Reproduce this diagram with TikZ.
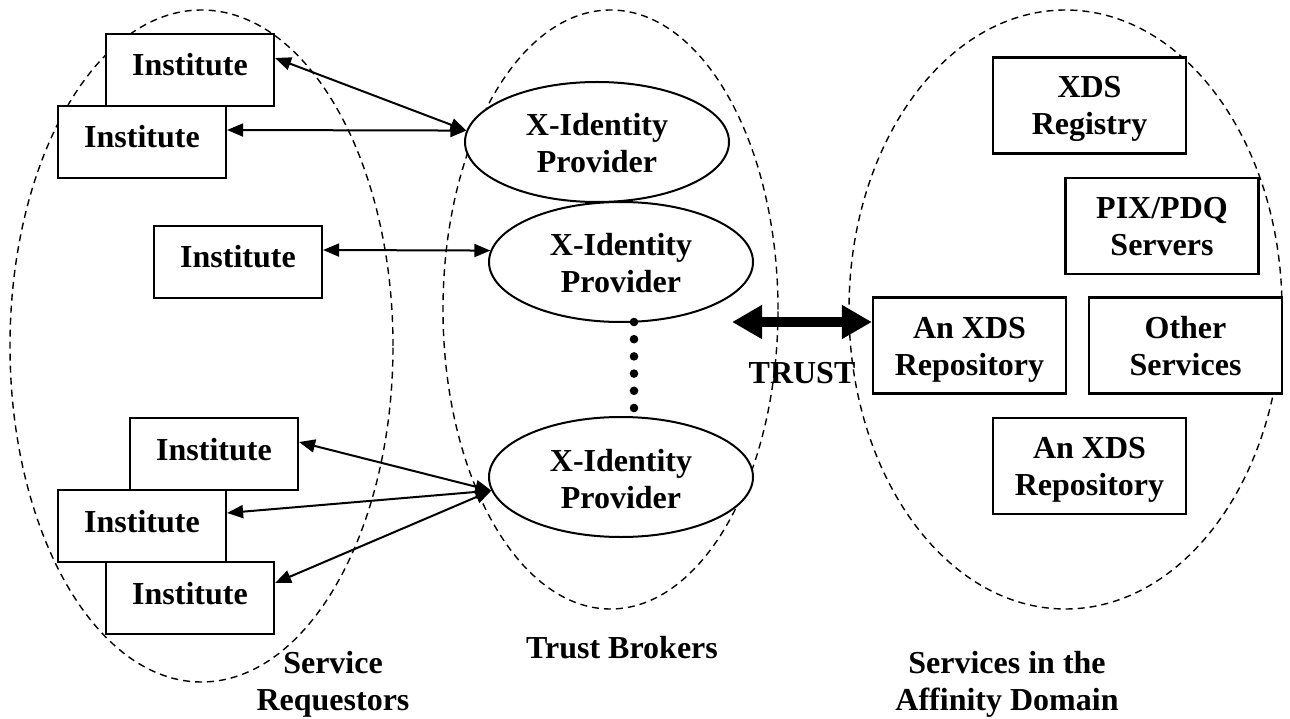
\documentclass[tikz,border=0pt]{standalone}
\usepackage{fontspec}
\setmainfont{Liberation Serif}
\usetikzlibrary{arrows.meta,shapes.geometric}

\tikzset{
  zone/.style={draw, dashed, dash pattern=on 7pt off 5pt, line width=1.4pt},
  labeltext/.style={font=\fontsize{32}{37}\selectfont\bfseries, align=center, inner sep=0pt},
  inst/.style={draw, fill=white, line width=2.2pt, rectangle, minimum width=168pt,
    minimum height=72pt, inner sep=0pt, labeltext, text height=22pt, text depth=10pt},
  svc/.style={draw, fill=white, line width=2.2pt, rectangle, minimum width=193pt,
    minimum height=96pt, inner sep=0pt, labeltext, text height=69pt, text depth=10pt},
  idp/.style={draw, fill=white, line width=2pt, ellipse, minimum width=264pt,
    minimum height=120pt, inner sep=0pt, labeltext, text height=72pt, text depth=10pt},
  link/.style={line width=2pt, {Triangle[length=16pt,width=13pt]}-{Triangle[length=16pt,width=13pt]}},
  trustlink/.style={line width=10pt, {Triangle[length=30pt,width=32pt]}-{Triangle[length=30pt,width=32pt]}},
  caption/.style={labeltext, text height=69pt, text depth=10pt}
}

\begin{document}
\begin{tikzpicture}[x=1pt, y=-1pt]
\useasboundingbox (0,0) rectangle (1290,719);

% dashed domain outlines
\draw[zone] (201.5,346) ellipse [x radius=191.5pt, y radius=336pt];
\draw[zone] (610.5,309.5) ellipse [x radius=167.5pt, y radius=299.5pt];
\draw[zone] (1065.5,309.5) ellipse [x radius=216.5pt, y radius=299.5pt];

% service requestors
\node[inst] (instA) at (190,70) {Institute};
\node[inst] (instB) at (142,142) {Institute};
\node[inst] (instC) at (238,262) {Institute};
\node[inst] (instD) at (214,454) {Institute};
\node[inst] (instE) at (142,526) {Institute};
\node[inst] (instF) at (190,598) {Institute};

% trust brokers
\node[idp] (idp1) at (597,142) {X-Identity\\Provider};
\node[idp] (idp2) at (621,262) {X-Identity\\Provider};
\node[idp] (idp3) at (621,477) {X-Identity\\Provider};

% services in the affinity domain
\node[svc] (registry) at (1089.5,105.5) {XDS\\Registry};
\node[svc] (pix) at (1162,226) {PIX/PDQ\\Servers};
\node[svc] (repo1) at (969.5,345.5) {An XDS\\Repository};
\node[svc] (other) at (1185.5,345.5) {Other\\Services};
\node[svc] (repo2) at (1089.5,466) {An XDS\\Repository};

% ellipsis between the providers
\foreach \i in {0,...,5}
  \fill (634,{322+17.2*\i}) circle [radius=4.3pt];

% requestor to broker links
\draw[link] ([yshift=12pt]instA.east) -- (idp1.175);
\draw[link] ([yshift=12pt]instB.east) -- (idp1.175);
\draw[link] ([yshift=12pt]instC.east) -- (idp2.175);
\draw[link] ([yshift=12pt]instD.east) -- (idp3.186);
\draw[link] ([yshift=13pt]instE.east) -- (idp3.186);
\draw[link] ([yshift=15pt]instF.east) -- (idp3.186);

% trust relation
\coordinate (trustL) at (732,322);
\draw[trustlink] (trustL) -- ([yshift=23.5pt]repo1.west);
\node[labeltext, anchor=base] (trust) at (802,383) {TRUST};

% captions
\node[caption] (capReq) at (333,680.5) {Service\\Requestors};
\node[labeltext, anchor=base] (capBrk) at (622,658) {Trust Brokers};
\node[caption] (capSvc) at (1007,680.5) {Services in the\\Affinity Domain};
\end{tikzpicture}
\end{document}
